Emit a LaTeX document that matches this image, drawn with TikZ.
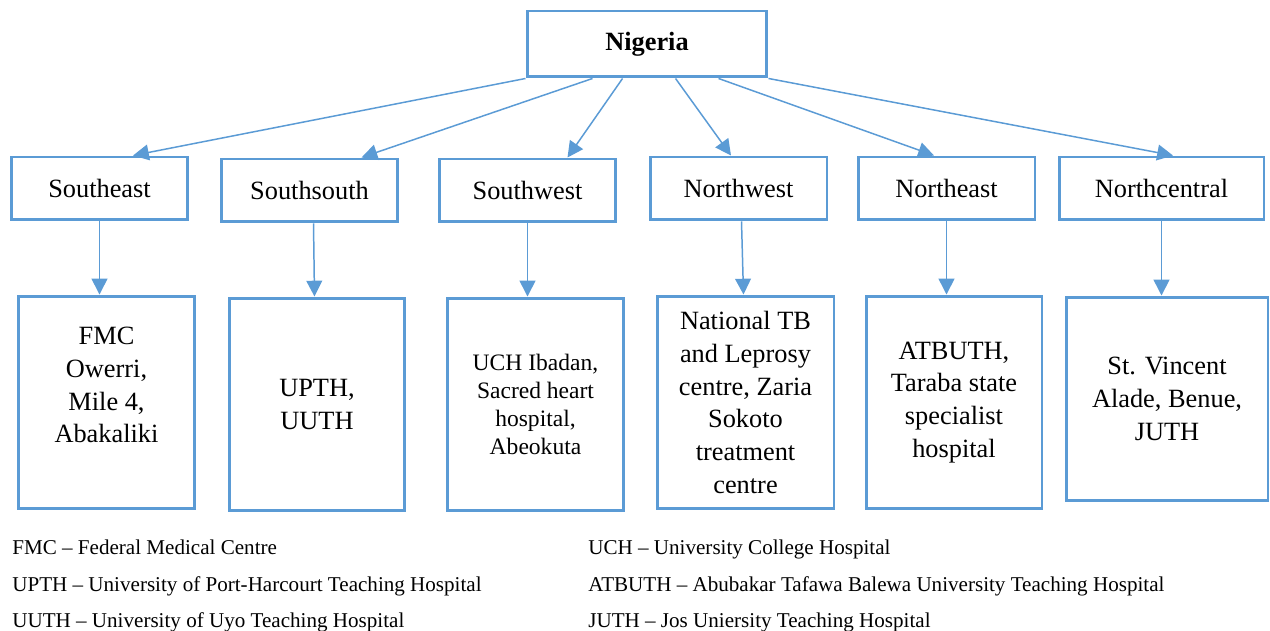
\documentclass[tikz,border=0pt]{standalone}
\usepackage{fontspec}
\setmainfont{Liberation Serif}
\usetikzlibrary{shapes,arrows,arrows.meta,calc}
\definecolor{boxblue}{HTML}{5B9BD5}
\tikzstyle{country} = [draw=boxblue, line width=1.7pt, rectangle, inner sep=0pt,
    minimum width=4.8cm, minimum height=1.32cm, font=\fontsize{15}{18.7}\selectfont\bfseries]
\tikzstyle{region} = [draw=boxblue, line width=1.7pt, rectangle, inner sep=0pt,
    minimum width=3.54cm, minimum height=1.26cm, font=\fontsize{15}{18.7}\selectfont]
\tikzstyle{hosp} = [draw=boxblue, line width=1.7pt, rectangle, inner sep=0pt, align=center,
    minimum width=3.54cm, minimum height=4.26cm, font=\fontsize{15}{18.7}\selectfont]
\tikzstyle{link} = [draw=boxblue, line width=0.85pt, -{Triangle[length=9pt,width=9pt]}]
\tikzstyle{legend} = [anchor=west, align=left, inner sep=0pt, font=\fontsize{12}{21}\selectfont]

\begin{document}
\begin{tikzpicture}[x=0.02cm, y=-0.02cm]
\useasboundingbox (0,0) rectangle (1270,631);

\node[country, name=ng] at (647,44) {Nigeria};

\node[region, name=se] at (99.5,188.5) {Southeast};
\node[region, name=ss] at (309.5,190.5) {Southsouth};
\node[region, name=sw] at (527.5,190.5) {Southwest};
\node[region, name=nw] at (738.5,188.5) {Northwest};
\node[region, name=ne] at (946.5,188.5) {Northeast};
\node[region, name=nc, minimum width=4.1cm] at (1161.5,188.5) {Northcentral};

\node[hosp, name=fmc, text depth=20pt] at (106.5,402.5) {FMC\\Owerri,\\Mile 4,\\Abakaliki};
\node[hosp, name=upth, minimum width=3.52cm] at (317,404.5) {UPTH,\\UUTH};
\node[hosp, name=uch, font=\fontsize{13.4}{15.9}\selectfont] at (535.5,404.5)
    {UCH Ibadan,\\Sacred heart\\hospital,\\Abeokuta};
\node[hosp, name=ntb] at (745.5,402.5)
    {National TB\\and Leprosy\\centre, Zaria\\Sokoto\\treatment\\centre};
\node[hosp, name=atb, minimum width=3.52cm] at (954,402.5)
    {ATBUTH,\\Taraba state\\specialist\\hospital};
\node[hosp, name=stv, minimum width=4.04cm, minimum height=4.08cm] at (1167,399)
    {St. Vincent\\Alade, Benue,\\JUTH};

% country to regions
\draw[link] (ng.south west) -- ($(se.north)+(33.5,0)$);
\draw[link] ($(ng.south west)+(67,0)$) -- ($(ss.north)+(52,0)$);
\draw[link] ($(ng.south west)+(97,0)$) -- ($(sw.north)+(40,0)$);
\draw[link] ($(ng.south west)+(150,0)$) -- ($(nw.north)+(-7.5,0)$);
\draw[link] ($(ng.south west)+(193,0)$) -- ($(ne.north)+(-12.5,0)$);
\draw[link] (ng.south east) -- ($(nc.north)+(11.5,0)$);

% regions to hospitals
\draw[link] (se.south) -- (se.south |- fmc.north);
\draw[link] ($(ss.south)+(4,0)$) -- ($(ss.south |- upth.north)+(5,0)$);
\draw[link] (sw.south) -- (sw.south |- uch.north);
\draw[link] ($(nw.south)+(3,0)$) -- ($(nw.south |- ntb.north)+(5,0)$);
\draw[link] (ne.south) -- (ne.south |- atb.north);
\draw[link] (nc.south) -- (nc.south |- stv.north);

\node[legend, name=legleft] at (12,586) {FMC – Federal Medical Centre\\
    UPTH – University of Port-Harcourt Teaching Hospital\\
    UUTH – University of Uyo Teaching Hospital};
\node[legend, name=legright] at (588,586) {UCH – University College Hospital\\
    ATBUTH – Abubakar Tafawa Balewa University Teaching Hospital\\
    JUTH – Jos Uniersity Teaching Hospital};

\end{tikzpicture}
\end{document}
